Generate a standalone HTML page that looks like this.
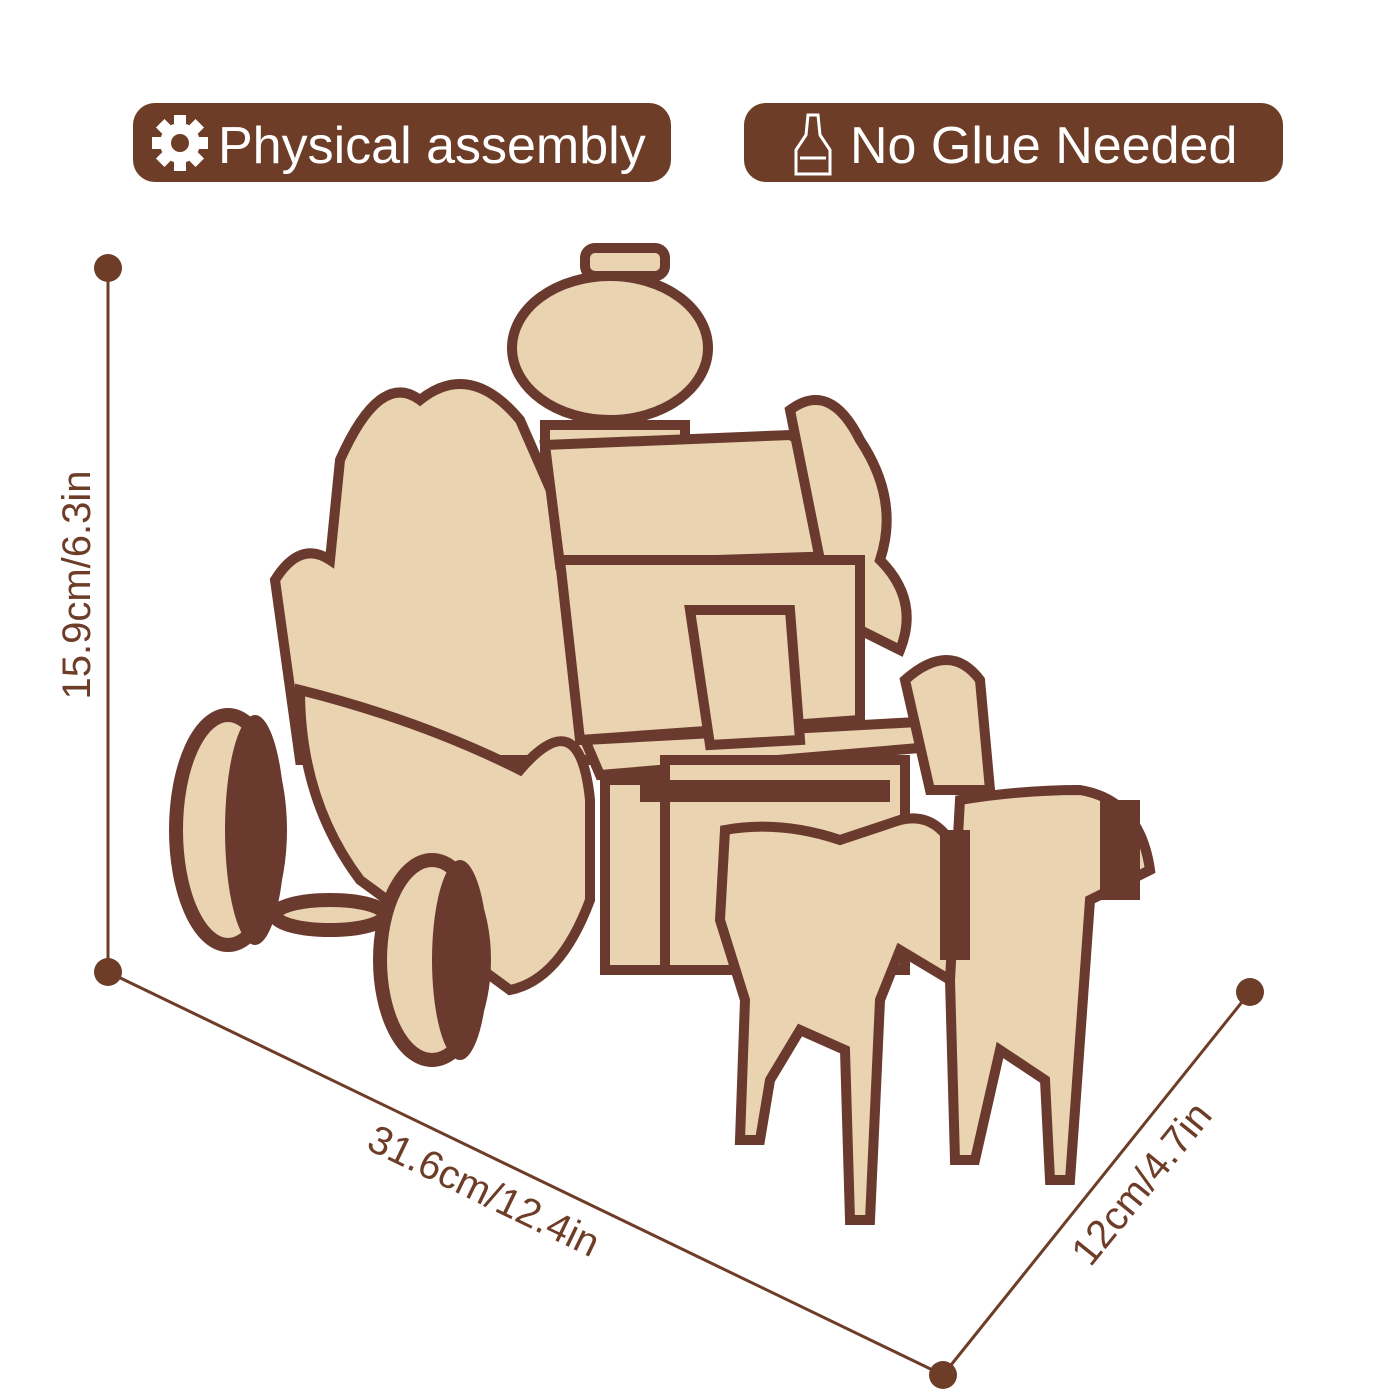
<!DOCTYPE html>
<html><head><style>
html,body{margin:0;padding:0;background:#fff;}
svg{display:block;}
text{font-family:"Liberation Sans",sans-serif;}
</style></head><body>
<svg width="1400" height="1400" viewBox="0 0 1400 1400" xmlns="http://www.w3.org/2000/svg">
<rect width="1400" height="1400" fill="#fff"/>
<!-- badges -->
<rect x="133" y="103" width="538" height="79" rx="22" fill="#6e3d28"/>
<g transform="translate(180,143)" fill="#fff">
<circle r="20"/><g>
<rect x="-6" y="-28" width="12" height="56"/>
<rect x="-6" y="-28" width="12" height="56" transform="rotate(45)"/>
<rect x="-6" y="-28" width="12" height="56" transform="rotate(90)"/>
<rect x="-6" y="-28" width="12" height="56" transform="rotate(135)"/></g>
<circle r="9" fill="#6e3d28"/></g>
<text x="218" y="163" font-size="52" fill="#fff">Physical assembly</text>
<rect x="744" y="103" width="539" height="79" rx="22" fill="#6e3d28"/>
<g fill="none" stroke="#fff" stroke-width="3">
<path d="M808 115 L818 115 L820 135 L830 150 L830 174 L796 174 L796 150 L806 135 Z"/>
<path d="M800 158 L826 158"/></g>
<text x="850" y="163" font-size="52" fill="#fff">No Glue Needed</text>
<!-- dimension lines -->
<g stroke="#6e3d28" stroke-width="3" fill="none">
<line x1="108" y1="268" x2="108" y2="972"/>
<line x1="108" y1="972" x2="943" y2="1375"/>
<line x1="943" y1="1375" x2="1250" y2="992"/>
</g>
<g fill="#6e3d28">
<circle cx="108" cy="268" r="14"/><circle cx="108" cy="972" r="14"/>
<circle cx="943" cy="1375" r="14"/><circle cx="1250" cy="992" r="14"/>
</g>
<g fill="#6e3d28" font-size="40" text-anchor="middle">
<text transform="translate(90,585) rotate(-90)">15.9cm/6.3in</text>
<text transform="translate(478,1203) rotate(25.8)">31.6cm/12.4in</text>
<text transform="translate(1152,1192) rotate(-51)">12cm/4.7in</text>
</g>
<!-- carriage approximation -->
<g stroke="#6b3a2e" stroke-width="10" fill="#e9d3b0">
<!-- lantern -->
<rect x="585" y="248" width="80" height="28" rx="10"/>
<ellipse cx="610" cy="348" rx="98" ry="72"/>
<rect x="545" y="425" width="140" height="45"/>
<!-- rear ornate panel -->
<path d="M340 460 Q380 370 420 400 Q470 360 520 420 L555 500 L580 650 L600 760 L300 760 L275 580 Q300 540 330 560 Z"/>
<!-- roof -->
<path d="M545 445 L790 435 Q860 470 870 555 L560 565 Z"/>
<!-- right ornate -->
<path d="M790 410 Q830 380 860 440 Q900 500 880 560 Q920 600 900 650 L860 630 L820 560 Z"/>
<!-- body box -->
<path d="M560 560 L860 560 L860 720 L580 740 Z"/>
<!-- lower body -->
<path d="M300 690 Q420 720 520 770 Q580 700 590 800 L590 900 Q560 980 510 990 L360 880 Q300 800 300 690 Z"/>
<!-- seat platform -->
<path d="M585 740 L955 720 L955 745 L600 775 Z"/>
<rect x="605" y="780" width="60" height="190"/>
<rect x="665" y="760" width="240" height="210"/>
<!-- front panel -->
<path d="M905 680 Q950 640 980 680 L990 790 L930 790 Z"/>
<!-- chair -->
<path d="M690 610 L790 610 L800 740 L710 745 Z"/>
</g>
<!-- wheels -->
<g stroke="#6b3a2e" stroke-width="14" fill="#e9d3b0">
<ellipse cx="228" cy="830" rx="52" ry="115"/>
<ellipse cx="432" cy="960" rx="52" ry="100"/>
<ellipse cx="330" cy="915" rx="55" ry="15"/>
</g>
<g fill="#6b3a2e">
<ellipse cx="255" cy="830" rx="30" ry="115"/>
<ellipse cx="460" cy="960" rx="28" ry="100"/>
</g>
<!-- horses -->
<g stroke="#6b3a2e" stroke-width="10" fill="#e9d3b0">
<path d="M725 830 Q780 820 840 840 L900 820 Q940 810 960 860 L950 980 L900 950 L880 1000 L870 1220 L850 1220 L845 1050 L800 1030 L770 1080 L760 1140 L740 1140 L745 1000 L720 920 Z"/>
<path d="M960 800 Q1020 790 1080 790 Q1140 800 1150 870 L1090 900 L1080 1040 L1070 1180 L1050 1180 L1045 1080 L1000 1050 L975 1160 L955 1160 L950 980 Z"/>
</g>
<g fill="#6b3a2e">
<rect x="940" y="830" width="30" height="130"/>
<rect x="1100" y="800" width="40" height="100"/>
<rect x="640" y="780" width="250" height="22"/>
</g>
</svg>
</body></html>
